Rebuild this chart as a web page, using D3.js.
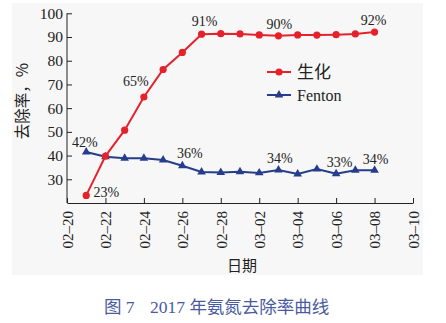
<!DOCTYPE html>
<html><head><meta charset="utf-8">
<script src="https://cdn.jsdelivr.net/npm/d3@7/dist/d3.min.js"></script>
<style>body{margin:0;background:#fff}svg{display:block}</style>
</head><body>
<svg id="c" width="446" height="323"></svg>
<script>
const dates = ["02-21","02-22","02-23","02-24","02-25","02-26","02-27","02-28","03-01","03-02","03-03","03-04","03-05","03-06","03-07","03-08"];
const bioValues = [23.2,39.8,50.7,64.7,76.3,83.5,91.2,91.4,91.3,90.9,90.5,90.9,90.8,91.0,91.3,92.1];
const fentonValues = [41.5,39.5,38.9,38.9,38.1,35.7,33.1,32.9,33.2,32.7,33.9,32.2,34.3,32.3,33.8,33.8];
const seriesNames = ["生化","Fenton"];
const yTicks = [30,40,50,60,70,80,90,100];
const xTickLabels = ["02-20","02-22","02-24","02-26","02-28","03-02","03-04","03-06","03-08","03-10"];
const labelBio = [["02-21","23%"],["02-24","65%"],["02-27","91%"],["03-03","90%"],["03-08","92%"]];
const labelFenton = [["02-21","42%"],["02-26","36%"],["03-03","34%"],["03-06","33%"],["03-08","34%"]];

const parse = s => new Date(2017, +s.slice(0,2)-1, +s.slice(3,5));
const svg = d3.select("#c");
const serif = "'Liberation Serif','Times New Roman',serif";
const cjk = "'Liberation Serif','Noto Sans CJK SC',serif";
const red = "#e5222c", blue = "#263d8c";

svg.append("rect").attr("x",12).attr("y",3).attr("width",411).attr("height",272).attr("fill","#f7f7f7");

const x = d3.scaleTime().domain([parse("02-20"), parse("03-10")]).range([67, 413]);
const y = d3.scaleLinear().domain([20, 100]).range([203, 13.3]);

// axes
const yAxis = d3.axisLeft(y).tickValues(yTicks).tickSize(-5).tickSizeOuter(-5).tickPadding(4).tickFormat(d3.format("d"));
const gy = svg.append("g").attr("transform","translate(67,0)").call(yAxis);
gy.selectAll("text").attr("font-family", serif).attr("font-size", 15.5).attr("fill","#222");
gy.selectAll("line,path").attr("stroke","#222");
gy.select("path").attr("d", "M0," + y(100) + "V" + y(20));

const xAxis = d3.axisBottom(x).tickValues(xTickLabels.map(parse)).tickSize(-5).tickSizeOuter(0)
  .tickFormat(d => d3.timeFormat("%m–%d")(d));
const gx = svg.append("g").attr("transform","translate(0,203)").call(xAxis);
gx.selectAll("line,path").attr("stroke","#222");
gx.selectAll("text").attr("font-family", serif).attr("font-size", 15).attr("fill","#222")
  .attr("transform","rotate(-90)").attr("text-anchor","end").attr("x",-8).attr("y",0).attr("dy","0.35em");

// axis titles
svg.append("text").attr("transform","translate(28,101) rotate(-90)").attr("text-anchor","middle")
  .attr("font-family", "'Noto Sans CJK SC',sans-serif").attr("font-size",15.5).attr("fill","#222").text("去除率，%");
svg.append("text").attr("x",242).attr("y",271).attr("text-anchor","middle")
  .attr("font-family", "'Noto Sans CJK SC',sans-serif").attr("font-size",15).attr("fill","#222").text("日期");

const line = d3.line().x(d => x(parse(d[0]))).y(d => y(d[1]));
const bio = dates.map((d,i) => [d, bioValues[i]]);
const fen = dates.map((d,i) => [d, fentonValues[i]]);

svg.append("path").datum(fen).attr("d", line).attr("fill","none").attr("stroke",blue).attr("stroke-width",2);
svg.append("g").selectAll("path").data(fen).join("path")
  .attr("transform", d => `translate(${x(parse(d[0]))},${y(d[1])})`)
  .attr("d", d3.symbol(d3.symbolTriangle, 32)).attr("fill", blue);

svg.append("path").datum(bio).attr("d", line).attr("fill","none").attr("stroke",red).attr("stroke-width",2);
svg.append("g").selectAll("circle").data(bio).join("circle")
  .attr("cx", d => x(parse(d[0]))).attr("cy", d => y(d[1])).attr("r",3.6).attr("fill", red);

// data labels
const bioOff = {"02-21":[20,2],"02-24":[-8,-11],"02-27":[3,-8],"03-03":[1,-7],"03-08":[-1,-7]};
const fenOff = {"02-21":[-1.5,-5],"02-26":[7.5,-8],"03-03":[1.5,-7],"03-06":[3.5,-7],"03-08":[1,-6]};
function addLabels(list, vals, off){
  list.forEach(([d, t]) => {
    const i = dates.indexOf(d);
    svg.append("text").attr("x", x(parse(d)) + off[d][0]).attr("y", y(vals[i]) + off[d][1])
      .attr("text-anchor","middle").attr("font-family", serif).attr("font-size",14).attr("fill","#222").text(t);
  });
}
addLabels(labelBio, bioValues, bioOff);
addLabels(labelFenton, fentonValues, fenOff);

// legend
const lg = svg.append("g");
[[red, 72], [blue, 95]].forEach(([c, ly], i) => {
  lg.append("line").attr("x1",267).attr("x2",291).attr("y1",ly).attr("y2",ly).attr("stroke",c).attr("stroke-width",2);
  if (i === 0) lg.append("circle").attr("cx",279).attr("cy",ly).attr("r",3.6).attr("fill",c);
  else lg.append("path").attr("transform",`translate(279,${ly})`).attr("d", d3.symbol(d3.symbolTriangle,32)).attr("fill",c);
  lg.append("text").attr("x",297).attr("y",ly).attr("dy","0.35em")
    .attr("font-family", i===0 ? "'Noto Sans CJK SC',sans-serif" : serif)
    .attr("font-size", i===0 ? 17 : 16).attr("fill","#222").text(seriesNames[i]);
});

// caption
const cap = svg.append("text").attr("y",313).attr("font-family", cjk).attr("font-size",17.5).attr("fill","#4a5aa0");
cap.append("tspan").attr("x",104).text("图 7");
cap.append("tspan").attr("x",150).text("2017 年氨氮去除率曲线");
</script>
</body></html>
